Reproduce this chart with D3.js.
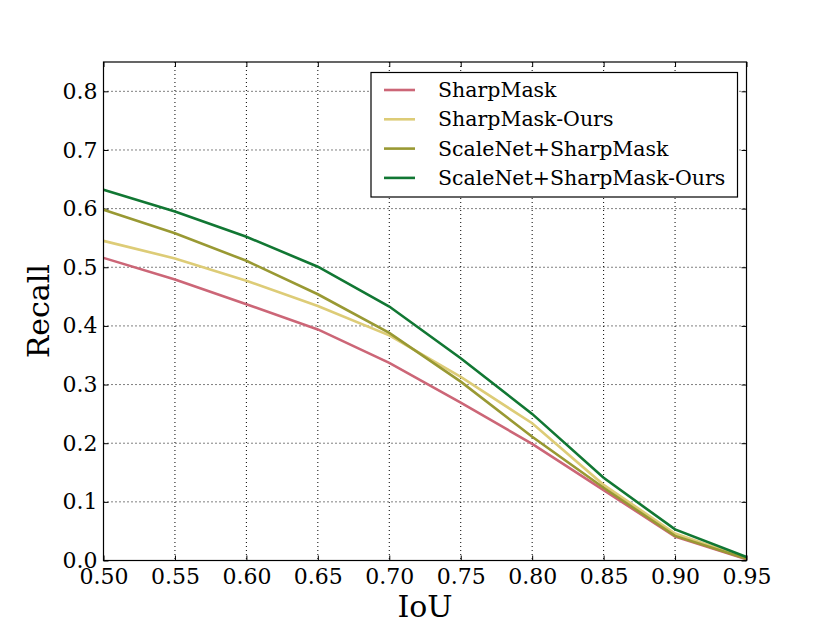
<!DOCTYPE html>
<html>
<head>
<meta charset="utf-8">
<script src="https://cdn.jsdelivr.net/npm/d3@7"></script>
<style>
  body { margin: 0; background: #fff; }
  text { font-family: "DejaVu Serif", serif; fill: #000; }
</style>
</head>
<body>
<div id="wrapper"></div>
<script>
// data
const iou = [0.50, 0.55, 0.60, 0.65, 0.70, 0.75, 0.80, 0.85, 0.90, 0.95]
const sharpMask = [0.516, 0.479, 0.437, 0.394, 0.337, 0.269, 0.199, 0.120, 0.041, 0.002]
const sharpMaskOurs = [0.545, 0.515, 0.477, 0.434, 0.384, 0.313, 0.234, 0.129, 0.046, 0.004]
const scaleNetSharpMask = [0.598, 0.558, 0.511, 0.454, 0.388, 0.305, 0.211, 0.124, 0.042, 0.003]
const scaleNetSharpMaskOurs = [0.632, 0.595, 0.552, 0.501, 0.433, 0.345, 0.250, 0.141, 0.053, 0.006]
const seriesNames = ["SharpMask", "SharpMask-Ours", "ScaleNet+SharpMask", "ScaleNet+SharpMask-Ours"]
const seriesColors = ["#cc6677", "#ddcc77", "#999933", "#117733"]
const xTicks = [0.50, 0.55, 0.60, 0.65, 0.70, 0.75, 0.80, 0.85, 0.90, 0.95]
const yTicks = [0.0, 0.1, 0.2, 0.3, 0.4, 0.5, 0.6, 0.7, 0.8]

const series = [sharpMask, sharpMaskOurs, scaleNetSharpMask, scaleNetSharpMaskOurs]

let dimensions = {
    width: 830,
    height: 623,
    margin: { top: 62, right: 83.5, bottom: 62.5, left: 103.5 },
}
dimensions.boundedWidth = dimensions.width - dimensions.margin.left - dimensions.margin.right
dimensions.boundedHeight = dimensions.height - dimensions.margin.top - dimensions.margin.bottom

const wrapper = d3.select("#wrapper")
    .append("svg")
    .attr("width", dimensions.width)
    .attr("height", dimensions.height)

const bounds = wrapper.append("g")
    .attr("transform", `translate(${dimensions.margin.left}, ${dimensions.margin.top})`)

const xScale = d3.scaleLinear()
    .domain([0.50, 0.95])
    .range([0, dimensions.boundedWidth])

const yScale = d3.scaleLinear()
    .domain([0, 0.85])
    .range([dimensions.boundedHeight, 0])

// dotted grid
bounds.append("g")
    .selectAll("line")
    .data(xTicks.slice(1, -1))
    .join("line")
    .attr("x1", d => xScale(d)).attr("x2", d => xScale(d))
    .attr("y1", 0).attr("y2", dimensions.boundedHeight)
    .attr("stroke", "#000").attr("stroke-width", 1)
    .attr("stroke-dasharray", "1,3")

bounds.append("g")
    .selectAll("line")
    .data(yTicks.slice(1))
    .join("line")
    .attr("y1", d => yScale(d)).attr("y2", d => yScale(d))
    .attr("x1", 0).attr("x2", dimensions.boundedWidth)
    .attr("stroke", "#000").attr("stroke-width", 1)
    .attr("stroke-dasharray", "1,3")

// axes, ticks pointing inwards on all four sides
const fmt2 = d3.format(".2f")
const fmt1 = d3.format(".1f")

const xAxis = bounds.append("g")
    .attr("transform", `translate(0, ${dimensions.boundedHeight})`)
    .call(d3.axisBottom(xScale).tickValues(xTicks).tickFormat(fmt2).tickSizeInner(-5).tickSizeOuter(0).tickPadding(8))
const xAxisTop = bounds.append("g")
    .call(d3.axisTop(xScale).tickValues(xTicks).tickFormat("").tickSizeInner(-5).tickSizeOuter(0))
const yAxis = bounds.append("g")
    .call(d3.axisLeft(yScale).tickValues(yTicks).tickFormat(fmt1).tickSizeInner(-5).tickSizeOuter(0).tickPadding(6))
const yAxisRight = bounds.append("g")
    .attr("transform", `translate(${dimensions.boundedWidth}, 0)`)
    .call(d3.axisRight(yScale).tickValues(yTicks).tickFormat("").tickSizeInner(-5).tickSizeOuter(0))

for (const ax of [xAxis, xAxisTop, yAxis, yAxisRight]) {
    ax.select(".domain").remove()
    ax.selectAll("line").attr("stroke", "#000").attr("stroke-width", 1)
    ax.selectAll("text").style("font-family", "DejaVu Serif").style("font-size", "22px")
}

// lines
const lineGen = d3.line()
    .x((d, i) => xScale(iou[i]))
    .y(d => yScale(d))

bounds.append("g")
    .selectAll("path")
    .data(series)
    .join("path")
    .attr("d", lineGen)
    .attr("fill", "none")
    .attr("stroke", (d, i) => seriesColors[i])
    .attr("stroke-width", 2.6)

// frame
bounds.append("rect")
    .attr("width", dimensions.boundedWidth)
    .attr("height", dimensions.boundedHeight)
    .attr("fill", "none")
    .attr("stroke", "#000")
    .attr("stroke-width", 1.2)

// axis labels
wrapper.append("text")
    .attr("x", dimensions.margin.left + dimensions.boundedWidth / 2)
    .attr("y", 617)
    .attr("text-anchor", "middle")
    .style("font-size", "30px")
    .text("IoU")

wrapper.append("text")
    .attr("transform", `translate(49, ${dimensions.margin.top + dimensions.boundedHeight / 2}) rotate(-90)`)
    .attr("text-anchor", "middle")
    .style("font-size", "30px")
    .text("Recall")

// legend
const legend = wrapper.append("g")
    .attr("transform", "translate(371, 72.5)")

legend.append("rect")
    .attr("width", 366.5)
    .attr("height", 124.5)
    .attr("fill", "#fff")
    .attr("stroke", "#000")
    .attr("stroke-width", 1.2)

const rows = legend.selectAll("g.row")
    .data(seriesNames)
    .join("g")
    .attr("class", "row")
    .attr("transform", (d, i) => `translate(0, ${17.5 + i * 29.3})`)

rows.append("line")
    .attr("x1", 13).attr("x2", 44)
    .attr("stroke", (d, i) => seriesColors[i])
    .attr("stroke-width", 2.6)

rows.append("text")
    .attr("x", 67)
    .attr("dy", "0.35em")
    .style("font-size", "20.5px")
    .text(d => d)
</script>
</body>
</html>
